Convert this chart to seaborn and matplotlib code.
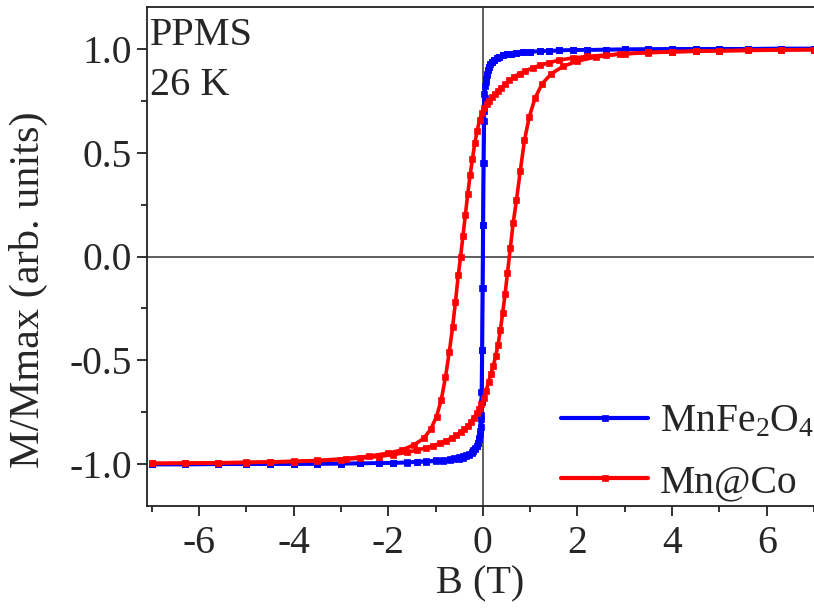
import matplotlib
matplotlib.use("Agg")
import matplotlib.pyplot as plt
import seaborn as sns
import pandas as pd

# ---------------- data ----------------
# MnFe2O4: descending branch (+7 T -> -7 T)
blue_down_B = [7.0, 6.3, 5.6, 5.0, 4.5, 4.0, 3.5, 3.0, 2.6, 2.2, 1.9, 1.6, 1.4, 1.2, 1.0,
               0.85, 0.7, 0.6, 0.5, 0.42, 0.35, 0.29, 0.24, 0.2, 0.16, 0.13, 0.1, 0.08,
               0.06, 0.04, 0.03, 0.02, 0.01, 0.0, -0.01, -0.02, -0.03, -0.04, -0.06, -0.08,
               -0.1, -0.13, -0.16, -0.2, -0.24, -0.29, -0.35, -0.42, -0.5, -0.6, -0.7,
               -0.85, -1.0, -1.2, -1.4, -1.6, -1.9, -2.2, -2.6, -3.0, -3.5, -4.0, -4.5,
               -5.0, -5.6, -6.3, -7.0]
blue_down_M = [1.0, 1.0, 0.999, 0.999, 0.998, 0.998, 0.997, 0.996, 0.995, 0.994, 0.993,
               0.991, 0.989, 0.987, 0.985, 0.982, 0.979, 0.976, 0.972, 0.967, 0.961, 0.954,
               0.946, 0.937, 0.925, 0.912, 0.895, 0.878, 0.855, 0.82, 0.78, 0.70, 0.45,
               0.15, -0.15, -0.45, -0.65, -0.76, -0.84, -0.875, -0.895, -0.912, -0.925,
               -0.937, -0.946, -0.954, -0.961, -0.967, -0.972, -0.976, -0.979, -0.982,
               -0.985, -0.987, -0.989, -0.991, -0.993, -0.994, -0.995, -0.996, -0.997,
               -0.998, -0.998, -0.999, -0.999, -1.0, -1.0]
# MnFe2O4: ascending branch (-7 T -> +7 T)
blue_up_B = [-7.0, -6.3, -5.6, -5.0, -4.5, -4.0, -3.5, -3.0, -2.6, -2.2, -1.9, -1.6, -1.4,
             -1.2, -1.0, -0.85, -0.7, -0.6, -0.5, -0.42, -0.35, -0.29, -0.24, -0.2, -0.16,
             -0.13, -0.1, -0.08, -0.06, -0.04, -0.03, -0.02, -0.01, 0.0, 0.01, 0.02, 0.03,
             0.04, 0.06, 0.08, 0.1, 0.13, 0.16, 0.2, 0.24, 0.29, 0.35, 0.42, 0.5, 0.6, 0.7,
             0.85, 1.0, 1.2, 1.4, 1.6, 1.9, 2.2, 2.6, 3.0, 3.5, 4.0, 4.5, 5.0, 5.6, 6.3, 7.0]
blue_up_M = [-1.0, -1.0, -0.999, -0.999, -0.998, -0.998, -0.997, -0.996, -0.995, -0.994,
             -0.992, -0.99, -0.987, -0.984, -0.981, -0.978, -0.974, -0.97, -0.966, -0.961,
             -0.955, -0.948, -0.94, -0.932, -0.922, -0.91, -0.895, -0.878, -0.855, -0.82,
             -0.78, -0.70, -0.45, -0.15, 0.15, 0.45, 0.65, 0.76, 0.84, 0.875, 0.895, 0.912,
             0.925, 0.937, 0.946, 0.954, 0.961, 0.967, 0.972, 0.976, 0.979, 0.982, 0.985,
             0.987, 0.989, 0.991, 0.993, 0.994, 0.995, 0.996, 0.997, 0.998, 0.998, 0.999,
             0.999, 1.0, 1.0]

# Mn@Co: descending branch (+7 T -> -7 T)
red_down_B = [7.0, 6.3, 5.6, 5.0, 4.5, 4.0, 3.5, 3.0, 2.6, 2.2, 1.9, 1.6, 1.4, 1.2, 1.05,
              0.9, 0.78, 0.66, 0.56, 0.47, 0.39, 0.32, 0.25, 0.19, 0.13, 0.08, 0.03, -0.02,
              -0.07, -0.12, -0.17, -0.22, -0.27, -0.32, -0.37, -0.42, -0.47, -0.52, -0.58,
              -0.64, -0.71, -0.79, -0.88, -0.98, -1.1, -1.25, -1.45, -1.7, -2.0, -2.4,
              -2.9, -3.5, -4.0, -4.5, -5.0, -5.6, -6.3, -7.0]
red_down_M = [0.995, 0.993, 0.991, 0.989, 0.987, 0.984, 0.98, 0.975, 0.969, 0.962, 0.955,
              0.944, 0.932, 0.919, 0.907, 0.893, 0.88, 0.865, 0.848, 0.83, 0.81, 0.795,
              0.78, 0.765, 0.75, 0.735, 0.715, 0.69, 0.655, 0.605, 0.545, 0.47, 0.39, 0.30,
              0.20, 0.10, 0.0, -0.09, -0.22, -0.34, -0.46, -0.58, -0.69, -0.77, -0.83,
              -0.875, -0.905, -0.93, -0.946, -0.96, -0.972, -0.981, -0.985, -0.988, -0.99,
              -0.992, -0.994, -0.995]
# Mn@Co: ascending branch (-7 T -> +7 T)
red_up_B = [-7.0, -6.3, -5.6, -5.0, -4.5, -4.0, -3.5, -3.0, -2.6, -2.2, -1.9, -1.6, -1.4,
            -1.2, -1.05, -0.9, -0.78, -0.66, -0.56, -0.47, -0.39, -0.32, -0.25, -0.19,
            -0.13, -0.08, -0.03, 0.02, 0.07, 0.12, 0.17, 0.22, 0.27, 0.32, 0.37, 0.42,
            0.47, 0.52, 0.58, 0.64, 0.71, 0.79, 0.88, 0.98, 1.1, 1.25, 1.45, 1.7, 2.0,
            2.4, 2.9, 3.5, 4.0, 4.5, 5.0, 5.6, 6.3, 7.0]
red_up_M = [-0.995, -0.994, -0.993, -0.991, -0.989, -0.986, -0.983, -0.977, -0.97, -0.962,
            -0.953, -0.942, -0.932, -0.92, -0.91, -0.898, -0.886, -0.873, -0.86, -0.845,
            -0.83, -0.815, -0.795, -0.775, -0.755, -0.735, -0.71, -0.68, -0.645, -0.605,
            -0.565, -0.525, -0.48, -0.425, -0.355, -0.27, -0.18, -0.08, 0.04, 0.16, 0.27,
            0.41, 0.56, 0.67, 0.76, 0.83, 0.88, 0.915, 0.94, 0.96, 0.974, 0.982, 0.985,
            0.988, 0.99, 0.992, 0.994, 0.995]

series_labels = [r"MnFe$_2$O$_4$", "Mn@Co"]
series_colors = ["#0000FF", "#FF0000"]
x_ticks = [-6, -4, -2, 0, 2, 4, 6]
y_ticks = [-1.0, -0.5, 0.0, 0.5, 1.0]
annotation = ["PPMS", "26 K"]

# ---------------- plot ----------------
sns.set_theme(style="ticks")
plt.rcParams["font.family"] = ["Liberation Serif", "DejaVu Serif"]
plt.rcParams["mathtext.fontset"] = "custom"
plt.rcParams["mathtext.rm"] = "Liberation Serif"
plt.rcParams["mathtext.it"] = "Liberation Serif:italic"

W, H = 814, 610
fig = plt.figure(figsize=(W / 100, H / 100), dpi=100)
ax = fig.add_axes([147 / W, 104 / H, 1.0 - 147 / W, (506 - 7) / H])

ax.axhline(0, color="#333333", lw=1.1, zorder=1)
ax.axvline(0, color="#333333", lw=1.1, zorder=1)

branches = [
    (blue_down_B, blue_down_M, 0, True),
    (blue_up_B, blue_up_M, 0, False),
    (red_down_B, red_down_M, 1, True),
    (red_up_B, red_up_M, 1, False),
]
for B, M, idx, lab in branches:
    df = pd.DataFrame({"B": B, "M": M})
    sns.lineplot(data=df, x="B", y="M", sort=False, estimator=None, ax=ax,
                 color=series_colors[idx], lw=2.6, marker="s", markersize=4.8,
                 markeredgecolor=series_colors[idx], markeredgewidth=0.5,
                 label=series_labels[idx] if lab else None, zorder=3 + idx,
                 legend=lab)

ax.set_xlim(-7.1, 7.0)
ax.set_ylim(-1.2, 1.2)
ax.set_xticks(x_ticks)
ax.set_yticks(y_ticks)
ax.set_xticks([-7, -5, -3, -1, 1, 3, 5, 7], minor=True)
ax.set_yticks([-0.75, -0.25, 0.25, 0.75], minor=True)
ax.set_xticklabels([str(t) for t in x_ticks])
ax.set_yticklabels([f"{t:.1f}" for t in y_ticks])
ax.tick_params(axis="both", which="major", direction="out", length=7, width=1.3,
               labelsize=28.5, color="#222222")
ax.tick_params(axis="x", which="major", pad=7)
ax.tick_params(axis="y", which="major", pad=4)
ax.tick_params(axis="both", which="minor", direction="out", length=4, width=1.3,
               color="#222222")
for s in ["left", "bottom", "top"]:
    ax.spines[s].set_linewidth(1.3)
    ax.spines[s].set_color("#222222")
ax.spines["right"].set_visible(False)

ax.set_xlabel("B (T)", fontsize=29, labelpad=2)
ax.set_ylabel("M/Mmax (arb. units)", fontsize=30.5)
ax.yaxis.set_label_coords(-0.148, 0.433)

fig.text(150 / W, 1 - 45 / H, annotation[0], ha="left", va="baseline", fontsize=29)
fig.text(150 / W, 1 - 95 / H, annotation[1], ha="left", va="baseline", fontsize=29)

leg = ax.legend(loc="lower right", bbox_to_anchor=(1.033, -0.034), frameon=False,
                fontsize=28.5, handlelength=2.2, handletextpad=0.3, labelspacing=0.6,
                borderaxespad=0.15, numpoints=1, markerscale=0.9)
for line in leg.get_lines():
    line.set_linewidth(3.0)

fig.savefig("out.png", dpi=100)
